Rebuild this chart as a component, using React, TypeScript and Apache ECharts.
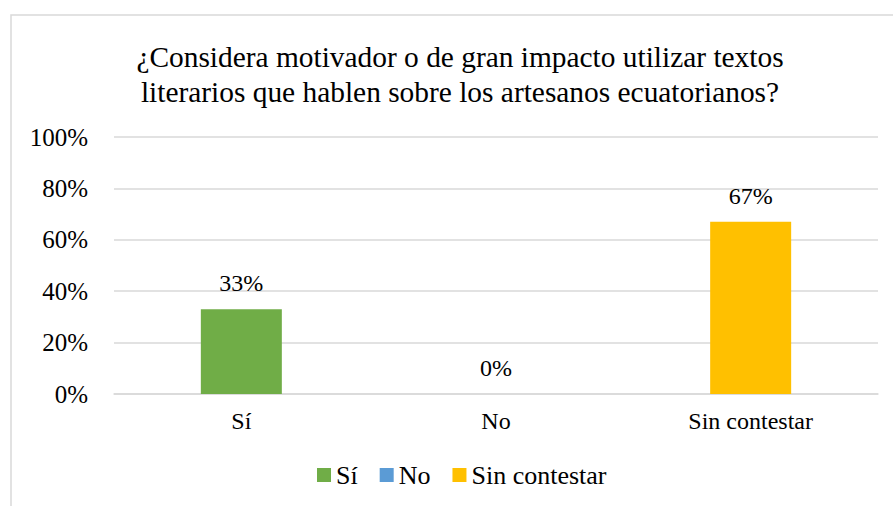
import React, { useEffect, useRef } from "react";
import * as echarts from "echarts";

const categories = ["Sí", "No", "Sin contestar"];
const seriesNames = ["Sí", "No", "Sin contestar"];
const values = [33, 0, 67];
const colors = ["#70AD47", "#5B9BD5", "#FFC000"];
const yTicks = { min: 0, max: 100, interval: 20 };
const titleText = "¿Considera motivador o de gran impacto utilizar textos\nliterarios que hablen sobre los artesanos ecuatorianos?";

const FONT = "Liberation Serif";

export default function App() {
  const ref = useRef<HTMLDivElement>(null);
  useEffect(() => {
    if (!ref.current) return;
    const chart = echarts.init(ref.current, null, { renderer: "svg" });
    const series = seriesNames.map((name, i) => ({
      name,
      type: "bar",
      barWidth: 81,
      barGap: "-100%",
      itemStyle: { color: colors[i] },
      label: {
        show: true,
        position: "top",
        distance: 14,
        formatter: "{c}%",
        color: "#000",
        fontFamily: FONT,
        fontSize: 24,
      },
      data: categories.map((_, j) => (j === i ? values[i] : null)),
    }));
    chart.setOption({
      animation: false,
      backgroundColor: "#fff",
      textStyle: { fontFamily: FONT },
      graphic: [
        {
          type: "rect",
          shape: { x: 11, y: 15, width: 1000, height: 1000 },
          style: { fill: "none", stroke: "#D9D9D9", lineWidth: 1.5 },
          silent: true,
          z: -1,
        },
      ],
      title: {
        text: titleText,
        left: 455,
        textAlign: "center",
        top: 34,
        padding: 5,
        textStyle: {
          fontFamily: FONT,
          fontSize: 29.4,
          fontWeight: "normal",
          color: "#000",
          lineHeight: 35,
        },
      },
      legend: {
        top: 462,
        left: 317,
        padding: 0,
        itemWidth: 14,
        itemHeight: 14,
        itemGap: 22,
        icon: "rect",
        textStyle: { fontFamily: FONT, fontSize: 26, color: "#000" },
        data: seriesNames,
      },
      grid: { left: 114, right: 15, top: 137, bottom: 112, containLabel: false },
      xAxis: {
        type: "category",
        data: categories,
        axisLine: { lineStyle: { color: "#D9D9D9", width: 1.5 } },
        axisTick: { show: false },
        axisLabel: { fontFamily: FONT, fontSize: 24, color: "#000", margin: 15 },
      },
      yAxis: {
        type: "value",
        min: yTicks.min,
        max: yTicks.max,
        interval: yTicks.interval,
        axisLine: { show: false },
        axisTick: { show: false },
        splitLine: { lineStyle: { color: "#D9D9D9", width: 1.5 } },
        axisLabel: { formatter: "{value}%", fontFamily: FONT, fontSize: 25, color: "#000", margin: 26 },
      },
      series,
    });
    return () => chart.dispose();
  }, []);
  return (
    <div
      ref={ref}
      style={{ position: "absolute", left: 0, top: 0, width: 893, height: 506 }}
    />
  );
}
